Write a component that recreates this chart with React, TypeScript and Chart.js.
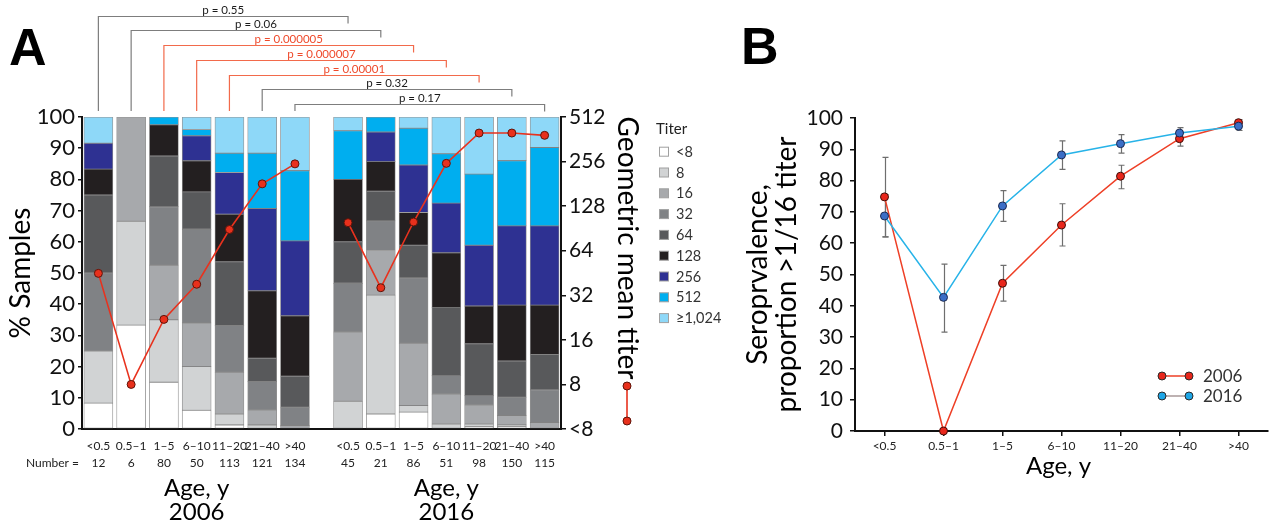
import React, { useEffect, useRef } from 'react';
import { Chart, registerables } from 'chart.js';

Chart.register(...registerables);

const FONT = 'Lato, "Noto Sans", sans-serif';
const BOLD_FONT = '"Liberation Sans", Arial, sans-serif';

// ---------- Data ----------
const AGE_GROUPS = ['<0.5', '0.5–1', '1–5', '6–10', '11–20', '21–40', '>40'];
const YEARS = ['2006', '2016'];
const N_2006 = [12, 6, 80, 50, 113, 121, 134];
const N_2016 = [45, 21, 86, 51, 98, 150, 115];

const TITERS = ['<8', '8', '16', '32', '64', '128', '256', '512', '≥1,024'];
const TITER_COLORS = ['#ffffff', '#d1d3d4', '#a7a9ac', '#808285', '#58595b', '#231f20', '#2e3192', '#00aeef', '#8ed8f8'];

// % of samples per titer class (rows = titers, columns = age groups)
const PCT_2006 = [
  [8.3, 33.3, 15.0, 6, 1.3, 0, 0],
  [16.7, 33.3, 20.0, 14, 3.5, 1.3, 0],
  [0, 33.4, 17.5, 14, 13.4, 4.8, 1.1],
  [25.0, 0, 18.75, 30, 15.0, 9.1, 5.9],
  [25.0, 0, 16.25, 12, 20.4, 7.5, 9.9],
  [8.3, 0, 10.0, 10, 15.2, 21.6, 19.4],
  [8.3, 0, 0, 8, 13.4, 26.4, 24.0],
  [0, 0, 2.5, 2, 6.2, 17.7, 22.5],
  [8.4, 0, 0, 4, 11.6, 11.6, 17.2],
];
const PCT_2016 = [
  [0, 4.8, 5.4, 0, 0.7, 0.7, 0],
  [8.9, 38.1, 2.1, 1.6, 0.9, 0.6, 0],
  [22.2, 14.3, 20.0, 9.6, 6.1, 3.0, 2.1],
  [15.6, 9.5, 20.9, 5.9, 3.0, 5.9, 10.5],
  [13.3, 9.5, 10.5, 21.8, 16.6, 11.6, 11.3],
  [20.0, 9.5, 10.5, 17.6, 12.1, 17.9, 15.8],
  [0, 9.5, 15.2, 15.9, 19.5, 25.4, 25.4],
  [15.6, 4.8, 11.8, 15.8, 22.8, 20.9, 25.1],
  [4.4, 0, 3.6, 11.8, 18.3, 14.0, 9.8],
];

const GMT_2006 = [45, 8, 22, 38, 89, 181, 247];
const GMT_2016 = [99, 36, 100, 249, 399, 399, 385];
const GMT_TICKS = ['<8', '8', '16', '32', '64', '128', '256', '512'];

const P_VALUES = ['0.55', '0.06', '0.000005', '0.000007', '0.00001', '0.32', '0.17'];
const P_SIGNIFICANT = [false, false, true, true, true, false, false];

const SERO_2006 = [74.8, 0, 47.2, 65.8, 81.4, 93.4, 98.5];
const SERO_2006_LO = [62.0, null, 41.5, 59.1, 77.4, 91.0, 97.2];
const SERO_2006_HI = [87.4, null, 52.9, 72.6, 84.9, 95.5, 99.5];
const SERO_2016 = [68.7, 42.7, 71.9, 88.2, 91.8, 95.2, 97.4];
const SERO_2016_LO = [62.0, 31.6, 67.0, 83.6, 88.8, 93.5, 96.0];
const SERO_2016_HI = [75.5, 53.3, 76.8, 92.7, 94.7, 96.9, 98.8];

// ---------- Layout ----------
const W_A = 740;
const W_B = 536;
const H = 526;
const GROUP_OFFSET = AGE_GROUPS.length + 0.62; // horizontal gap between 2006 and 2016 groups
const RED = '#e8321e';
const RED_TEXT = '#ef4a2c';

function PanelA() {
  const ref = useRef<HTMLCanvasElement>(null);
  useEffect(() => {
    const canvas = ref.current!;
    const xs06 = AGE_GROUPS.map((_, i) => i);
    const xs16 = AGE_GROUPS.map((_, i) => i + GROUP_OFFSET);
    const tickXs = [...xs06, ...xs16];
    const tickLabels = [
      ...AGE_GROUPS.map((g, i) => [g, String(N_2006[i])]),
      ...AGE_GROUPS.map((g, i) => [g, String(N_2016[i])]),
    ];

    const barSets = TITERS.map((t, k) => ({
      type: 'bar',
      label: t,
      data: [
        ...xs06.map((x, i) => ({ x, y: PCT_2006[k][i] })),
        ...xs16.map((x, i) => ({ x, y: PCT_2016[k][i] })),
      ],
      backgroundColor: TITER_COLORS[k],
      borderColor: 'rgba(110,110,110,0.75)',
      borderWidth: 0.8,
      borderSkipped: false,
      barThickness: 29,
      stack: 'titer',
      yAxisID: 'ya',
      order: 2,
    }));

    const lineStyle = {
      type: 'line',
      yAxisID: 'yr',
      borderColor: RED,
      borderWidth: 1.6,
      pointRadius: 4,
      pointBackgroundColor: '#e8301c',
      pointBorderColor: '#5e140a',
      pointBorderWidth: 1,
      order: 0,
      clip: false,
    };
    const lineSets = [
      { ...lineStyle, label: 'GMT 2006', data: xs06.map((x, i) => ({ x, y: Math.log2(GMT_2006[i]) })) },
      { ...lineStyle, label: 'GMT 2016', data: xs16.map((x, i) => ({ x, y: Math.log2(GMT_2016[i]) })) },
    ];

    const annotations = {
      id: 'panelAExtras',
      afterDraw(chart: any) {
        const { ctx, chartArea } = chart;
        const xs = chart.scales.x;
        ctx.save();
        // Panel letter
        ctx.fillStyle = '#000';
        ctx.font = `bold 52px ${BOLD_FONT}`;
        ctx.textAlign = 'left';
        ctx.textBaseline = 'alphabetic';
        ctx.fillText('A', 9, 65);

        // Brackets with p values
        P_VALUES.forEach((p, k) => {
          const xl = xs.getPixelForValue(xs06[k]);
          const xr = xs.getPixelForValue(xs16[k]);
          const yl = Math.round(15.7 + k * 14.7) + 0.5;
          const col = P_SIGNIFICANT[k] ? '#f26a4b' : '#7d7d7d';
          ctx.strokeStyle = col;
          ctx.lineWidth = 1.2;
          ctx.beginPath();
          ctx.moveTo(xl, chartArea.top - 6);
          ctx.lineTo(xl, yl);
          ctx.lineTo(xr, yl);
          ctx.lineTo(xr, yl + 7);
          ctx.stroke();
          ctx.fillStyle = P_SIGNIFICANT[k] ? RED_TEXT : '#1a1a1a';
          ctx.font = `11.5px ${FONT}`;
          ctx.textAlign = 'center';
          ctx.textBaseline = 'middle';
          ctx.fillText(`p = ${p}`, (xl + xr) / 2, yl - 6);
        });

        // Left axis title
        ctx.fillStyle = '#000';
        ctx.font = `28px ${FONT}`;
        ctx.textAlign = 'center';
        ctx.textBaseline = 'middle';
        ctx.save();
        ctx.translate(21, (chartArea.top + chartArea.bottom) / 2);
        ctx.rotate(-Math.PI / 2);
        ctx.fillText('% Samples', 0, 0);
        ctx.restore();

        // Right axis title
        ctx.save();
        ctx.translate(627, 248);
        ctx.rotate(Math.PI / 2);
        ctx.fillText('Geometric mean titer', 0, 0);
        ctx.restore();

        // GMT legend symbol
        ctx.strokeStyle = RED;
        ctx.lineWidth = 1.6;
        ctx.beginPath();
        ctx.moveTo(627, 386);
        ctx.lineTo(627, 421);
        ctx.stroke();
        [386, 421].forEach((y) => {
          ctx.beginPath();
          ctx.arc(627, y, 4, 0, Math.PI * 2);
          ctx.fillStyle = '#e8301c';
          ctx.fill();
          ctx.strokeStyle = '#5e140a';
          ctx.lineWidth = 1;
          ctx.stroke();
        });

        // Titer legend
        ctx.fillStyle = '#222';
        ctx.font = `15px ${FONT}`;
        ctx.textAlign = 'left';
        ctx.textBaseline = 'middle';
        ctx.fillText('Titer', 656, 129);
        TITERS.forEach((t, k) => {
          const y = 151.7 + k * 20.8;
          ctx.fillStyle = TITER_COLORS[k];
          ctx.fillRect(659.5, y - 4.5, 9, 9);
          ctx.strokeStyle = '#a0a0a0';
          ctx.lineWidth = 1;
          ctx.strokeRect(659.5, y - 4.5, 9, 9);
          ctx.fillStyle = '#333';
          ctx.font = `14.5px ${FONT}`;
          ctx.fillText(t, 676, y + 0.5);
        });

        // "Number =" row label
        ctx.fillStyle = '#222';
        ctx.font = `12px ${FONT}`;
        ctx.textAlign = 'right';
        ctx.textBaseline = 'middle';
        ctx.fillText('Number =', 79, 463);

        // Group titles
        ctx.fillStyle = '#000';
        ctx.font = `24px ${FONT}`;
        ctx.textAlign = 'center';
        const c06 = (xs.getPixelForValue(xs06[0]) + xs.getPixelForValue(xs06[6])) / 2;
        const c16 = (xs.getPixelForValue(xs16[0]) + xs.getPixelForValue(xs16[6])) / 2;
        ctx.fillText('Age, y', c06, 488);
        ctx.fillText(YEARS[0], c06, 512);
        ctx.fillText('Age, y', c16, 488);
        ctx.fillText(YEARS[1], c16, 512);
        ctx.restore();
      },
    };

    const chart = new Chart(canvas, {
      type: 'bar',
      data: { datasets: [...lineSets, ...barSets] as any },
      options: {
        responsive: false,
        animation: false,
        devicePixelRatio: 1,
        layout: { padding: { top: 117, left: 0, right: 0, bottom: 0 } },
        plugins: { legend: { display: false }, tooltip: { enabled: false } },
        scales: {
          x: {
            type: 'linear',
            min: -0.5,
            max: GROUP_OFFSET + AGE_GROUPS.length - 0.5,
            offset: false,
            grid: { display: true, drawOnChartArea: false, drawTicks: false },
            border: { display: true, color: '#111', width: 2 },
            afterBuildTicks: (s: any) => {
              s.ticks = tickXs.map((v) => ({ value: v }));
            },
            ticks: {
              autoSkip: false,
              maxRotation: 0,
              minRotation: 0,
              padding: 8,
              color: '#222',
              font: { family: FONT, size: 12, lineHeight: 1.45 },
              callback: (_v: any, i: number) => tickLabels[i],
            },
            afterFit: (s: any) => {
              s.height = H - 429;
            },
          },
          ya: {
            type: 'linear',
            position: 'left',
            stacked: true,
            min: 0,
            max: 100,
            grid: { drawOnChartArea: false, drawTicks: true, tickLength: 4, color: '#111', lineWidth: 1.5 },
            border: { color: '#111', width: 2 },
            ticks: { stepSize: 10, padding: 3, color: '#111', font: { family: FONT, size: 22 } },
            afterFit: (s: any) => {
              s.width = 82;
            },
          },
          yr: {
            type: 'linear',
            position: 'right',
            min: 2,
            max: 9,
            grid: { drawOnChartArea: false, drawTicks: true, tickLength: 5, color: '#111', lineWidth: 1.5 },
            border: { color: '#111', width: 2 },
            ticks: {
              stepSize: 1,
              padding: 3,
              color: '#111',
              font: { family: FONT, size: 21 },
              callback: (v: any) => GMT_TICKS[Math.round(v) - 2],
            },
            afterFit: (s: any) => {
              s.width = W_A - 561;
            },
          },
        },
      } as any,
      plugins: [annotations],
    });
    return () => chart.destroy();
  }, []);
  return (
    <canvas
      ref={ref}
      width={W_A}
      height={H}
      style={{ position: 'absolute', left: 0, top: 0, width: W_A, height: H }}
    />
  );
}

function PanelB() {
  const ref = useRef<HTMLCanvasElement>(null);
  useEffect(() => {
    const canvas = ref.current!;
    const series = [
      { label: YEARS[0], data: SERO_2006, lo: SERO_2006_LO, hi: SERO_2006_HI },
      { label: YEARS[1], data: SERO_2016, lo: SERO_2016_LO, hi: SERO_2016_HI },
    ];
    const LINE_COLORS = ['#ee3f26', '#27b3e8'];
    const POINT_FILL = ['#e8261b', '#3b6ec6'];
    const POINT_BORDER = ['#3f0d08', '#1b2a52'];
    const LEGEND_FILL = ['#e8261b', '#1ea6e6'];
    const LEGEND_LINE = ['#ee3f26', '#a89898'];

    const extras = {
      id: 'panelBExtras',
      beforeDatasetsDraw(chart: any) {
        const { ctx } = chart;
        const xs = chart.scales.x;
        const ys = chart.scales.y;
        ctx.save();
        series.forEach((s) => {
          s.lo.forEach((lo, i) => {
            const hi = s.hi[i];
            if (lo == null || hi == null) return;
            const x = Math.round(xs.getPixelForValue(i)) + 0.5;
            const y1 = ys.getPixelForValue(lo);
            const y2 = ys.getPixelForValue(hi);
            ctx.strokeStyle = '#6e6e6e';
            ctx.lineWidth = 1.2;
            ctx.beginPath();
            ctx.moveTo(x, y1);
            ctx.lineTo(x, y2);
            ctx.moveTo(x - 3, y1);
            ctx.lineTo(x + 3, y1);
            ctx.moveTo(x - 3, y2);
            ctx.lineTo(x + 3, y2);
            ctx.stroke();
          });
        });
        ctx.restore();
      },
      afterDraw(chart: any) {
        const { ctx, chartArea } = chart;
        ctx.save();
        ctx.fillStyle = '#000';
        ctx.font = `bold 52px ${BOLD_FONT}`;
        ctx.textAlign = 'left';
        ctx.textBaseline = 'alphabetic';
        ctx.fillText('B', 1, 64);

        ctx.font = `28px ${FONT}`;
        ctx.textAlign = 'center';
        ctx.textBaseline = 'middle';
        const cy = (chartArea.top + chartArea.bottom) / 2;
        ctx.save();
        ctx.translate(18, cy);
        ctx.rotate(-Math.PI / 2);
        ctx.fillText('Seroprvalence,', 0, 0);
        ctx.restore();
        ctx.save();
        ctx.translate(47, cy);
        ctx.rotate(-Math.PI / 2);
        ctx.fillText('proportion >1/16 titer', 0, 0);
        ctx.restore();

        ctx.font = `24px ${FONT}`;
        ctx.fillText('Age, y', (chartArea.left + chartArea.right) / 2 - 3, 466);

        // Legend
        series.forEach((s, k) => {
          const y = 376 + k * 20;
          const x1 = 1162 - 740;
          const x2 = 1189 - 740;
          ctx.strokeStyle = LEGEND_LINE[k];
          ctx.lineWidth = 1.5;
          ctx.beginPath();
          ctx.moveTo(x1, y);
          ctx.lineTo(x2, y);
          ctx.stroke();
          [x1, x2].forEach((x) => {
            ctx.beginPath();
            ctx.arc(x, y, 4, 0, Math.PI * 2);
            ctx.fillStyle = LEGEND_FILL[k];
            ctx.fill();
            ctx.strokeStyle = '#2a2a2a';
            ctx.lineWidth = 1;
            ctx.stroke();
          });
          ctx.fillStyle = '#333';
          ctx.font = `17px ${FONT}`;
          ctx.textAlign = 'left';
          ctx.fillText(s.label, 1203 - 740, y + 1);
        });
        ctx.restore();
      },
    };

    const chart = new Chart(canvas, {
      type: 'line',
      data: {
        labels: AGE_GROUPS,
        datasets: series.map((s, k) => ({
          label: s.label,
          data: s.data,
          borderColor: LINE_COLORS[k],
          borderWidth: 1.5,
          pointRadius: 4,
          pointBackgroundColor: POINT_FILL[k],
          pointBorderColor: POINT_BORDER[k],
          pointBorderWidth: 1,
          clip: false,
          order: k === 0 ? 1 : 0,
        })),
      },
      options: {
        responsive: false,
        animation: false,
        devicePixelRatio: 1,
        layout: { padding: { top: 118, right: 8, left: 0, bottom: 0 } },
        plugins: { legend: { display: false }, tooltip: { enabled: false } },
        scales: {
          x: {
            type: 'category',
            offset: true,
            grid: { drawOnChartArea: false, drawTicks: true, tickLength: 5, color: '#111', lineWidth: 1.5, offset: false },
            border: { color: '#111', width: 2 },
            ticks: { padding: 3, color: '#222', font: { family: FONT, size: 12 }, autoSkip: false, maxRotation: 0 },
            afterFit: (s: any) => {
              s.height = H - 431;
            },
          },
          y: {
            min: 0,
            max: 100,
            grid: { drawOnChartArea: false, drawTicks: true, tickLength: 5, color: '#111', lineWidth: 1.5 },
            border: { color: '#111', width: 2 },
            ticks: { stepSize: 10, padding: 7, color: '#111', font: { family: FONT, size: 21 } },
            afterFit: (s: any) => {
              s.width = 115;
            },
          },
        },
      } as any,
      plugins: [extras],
    });
    return () => chart.destroy();
  }, []);
  return (
    <canvas
      ref={ref}
      width={W_B}
      height={H}
      style={{ position: 'absolute', left: W_A, top: 0, width: W_B, height: H }}
    />
  );
}

export default function App() {
  return (
    <div
      style={{
        position: 'absolute',
        left: 0,
        top: 0,
        width: W_A + W_B,
        height: H,
        background: '#fff',
        overflow: 'hidden',
      }}
    >
      <PanelA />
      <PanelB />
    </div>
  );
}
